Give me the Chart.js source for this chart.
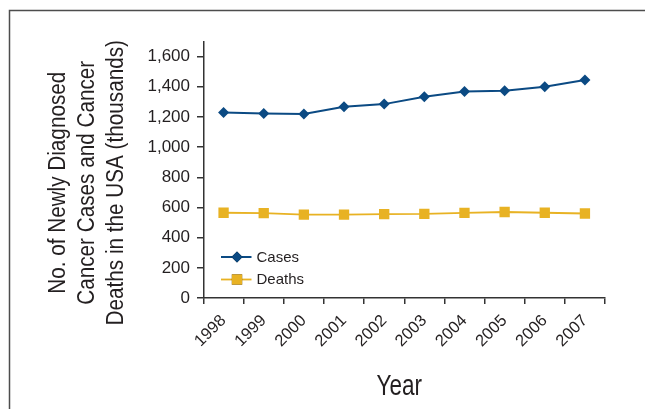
<!DOCTYPE html>
<html>
<head>
<meta charset="utf-8">
<script src="https://cdn.jsdelivr.net/npm/chart.js@4.4.0/dist/chart.umd.min.js"></script>
<style>
  html, body { margin: 0; padding: 0; background: #fff; }
  #wrap { position: relative; width: 645px; height: 409px; }
</style>
</head>
<body>
<div id="wrap"><canvas id="c" width="645" height="409"></canvas></div>
<script>
// Newly diagnosed cancer cases and cancer deaths in the USA, thousands
const years = ['1998', '1999', '2000', '2001', '2002', '2003', '2004', '2005', '2006', '2007'];
const casesThousands = [1229, 1222, 1220, 1268, 1285, 1334, 1368, 1373, 1400, 1445];
const deathsThousands = [565, 563, 552, 553, 556, 557, 564, 570, 565, 560];
const yTickValues = [0, 200, 400, 600, 800, 1000, 1200, 1400, 1600];
const seriesNames = ['Cases', 'Deaths'];
const yAxisTitle = ['No. of Newly Diagnosed', 'Cancer Cases and Cancer', 'Deaths in the USA (thousands)'];
const xAxisTitle = 'Year';

const SANS = '"Liberation Sans", Arial, Helvetica, sans-serif';
const INK = '#231f20';
const AXIS = '#333333';
const NAVY = '#0b4a83';
const GOLD = '#e8b223';

// white page with the open frame along the top and left edges
const framePlugin = {
  id: 'frame',
  beforeDraw(chart) {
    const ctx = chart.ctx;
    ctx.save();
    ctx.fillStyle = '#ffffff';
    ctx.fillRect(0, 0, chart.width, chart.height);
    ctx.strokeStyle = '#4d4d4d';
    ctx.lineWidth = 1.5;
    ctx.beginPath();
    ctx.moveTo(9.5, chart.height);
    ctx.lineTo(9.5, 10.5);
    ctx.lineTo(chart.width, 10.5);
    ctx.stroke();
    ctx.restore();
  }
};

// axis titles in a condensed setting (text squeezed along its own direction)
function condensedText(ctx, text, x, y, size, squeeze, angle) {
  ctx.save();
  ctx.translate(x, y);
  ctx.rotate(angle);
  ctx.scale(squeeze, 1);
  ctx.font = size + 'px ' + SANS;
  ctx.fillStyle = INK;
  ctx.textAlign = 'center';
  ctx.textBaseline = 'middle';
  ctx.fillText(text, 0, 0);
  ctx.restore();
}

const axisTitles = {
  id: 'axisTitles',
  afterDraw(chart) {
    const ctx = chart.ctx;
    const area = chart.chartArea;
    const midY = (area.top + area.bottom) / 2 + 13;
    yAxisTitle.forEach((line, i) => {
      condensedText(ctx, line, 59 + i * 29, midY, 23, 0.9, -Math.PI / 2);
    });
    condensedText(ctx, xAxisTitle, (area.left + area.right) / 2 - 5, 386.5, 30, 0.75, 0);
  }
};

// legend placed inside the plot, lower left
const insideLegend = {
  id: 'insideLegend',
  afterDatasetsDraw(chart) {
    const ctx = chart.ctx;
    const area = chart.chartArea;
    const rows = [area.bottom - 41, area.bottom - 18.5];
    const x0 = area.left + 17.5, x1 = area.left + 48, xm = area.left + 33.5;
    ctx.save();
    chart.data.datasets.forEach((ds, i) => {
      const y = rows[i];
      ctx.strokeStyle = ds.borderColor;
      ctx.lineWidth = ds.borderWidth;
      ctx.beginPath();
      ctx.moveTo(x0, y);
      ctx.lineTo(x1, y);
      ctx.stroke();
      Chart.helpers.drawPoint(ctx, {
        pointStyle: ds.pointStyle,
        radius: ds.pointRadius,
        rotation: 0,
        borderWidth: 0
      }, xm, y);
      ctx.fillStyle = ds.backgroundColor;
      ctx.fill();
      ctx.fillStyle = INK;
      ctx.font = '15px ' + SANS;
      ctx.textAlign = 'left';
      ctx.textBaseline = 'middle';
      ctx.fillText(ds.label, area.left + 53, y + 0.5);
    });
    ctx.restore();
  }
};

new Chart(document.getElementById('c'), {
  type: 'line',
  data: {
    labels: years,
    datasets: [
      {
        label: seriesNames[0],
        data: casesThousands,
        borderColor: NAVY,
        backgroundColor: NAVY,
        borderWidth: 2,
        pointStyle: 'rectRot',
        pointRadius: 5.5,
        pointBorderWidth: 0,
        pointHoverRadius: 5.5,
        tension: 0
      },
      {
        label: seriesNames[1],
        data: deathsThousands,
        borderColor: GOLD,
        backgroundColor: GOLD,
        borderWidth: 1.8,
        pointStyle: 'rect',
        pointRadius: 7.3,
        pointBorderWidth: 0,
        pointHoverRadius: 7.3,
        tension: 0
      }
    ]
  },
  options: {
    responsive: false,
    animation: false,
    events: [],
    layout: { padding: { left: 0, right: 40, top: 41.5, bottom: 0 } },
    plugins: {
      legend: { display: false },
      tooltip: { enabled: false }
    },
    scales: {
      x: {
        type: 'category',
        offset: true,
        afterFit(s) { s.height = 111; },
        border: { display: true, color: AXIS, width: 1.5 },
        grid: { offset: true, drawOnChartArea: false, drawTicks: true, tickLength: 6, color: AXIS, lineWidth: 1.5 },
        ticks: {
          autoSkip: false,
          minRotation: 45,
          maxRotation: 45,
          padding: 7,
          color: INK,
          font: { family: SANS, size: 16.5 }
        }
      },
      y: {
        min: 0,
        max: 1700,
        afterFit(s) { s.width = 203.5; },
        afterBuildTicks(s) { s.ticks = yTickValues.map(v => ({ value: v })); },
        border: { display: true, color: AXIS, width: 1.5 },
        grid: { drawOnChartArea: false, drawTicks: true, tickLength: 6.5, color: AXIS, lineWidth: 1.5 },
        ticks: {
          padding: 7,
          color: INK,
          font: { family: SANS, size: 17 },
          callback: v => Number(v).toLocaleString('en-US')
        }
      }
    }
  },
  plugins: [framePlugin, axisTitles, insideLegend]
});
</script>
</body>
</html>
